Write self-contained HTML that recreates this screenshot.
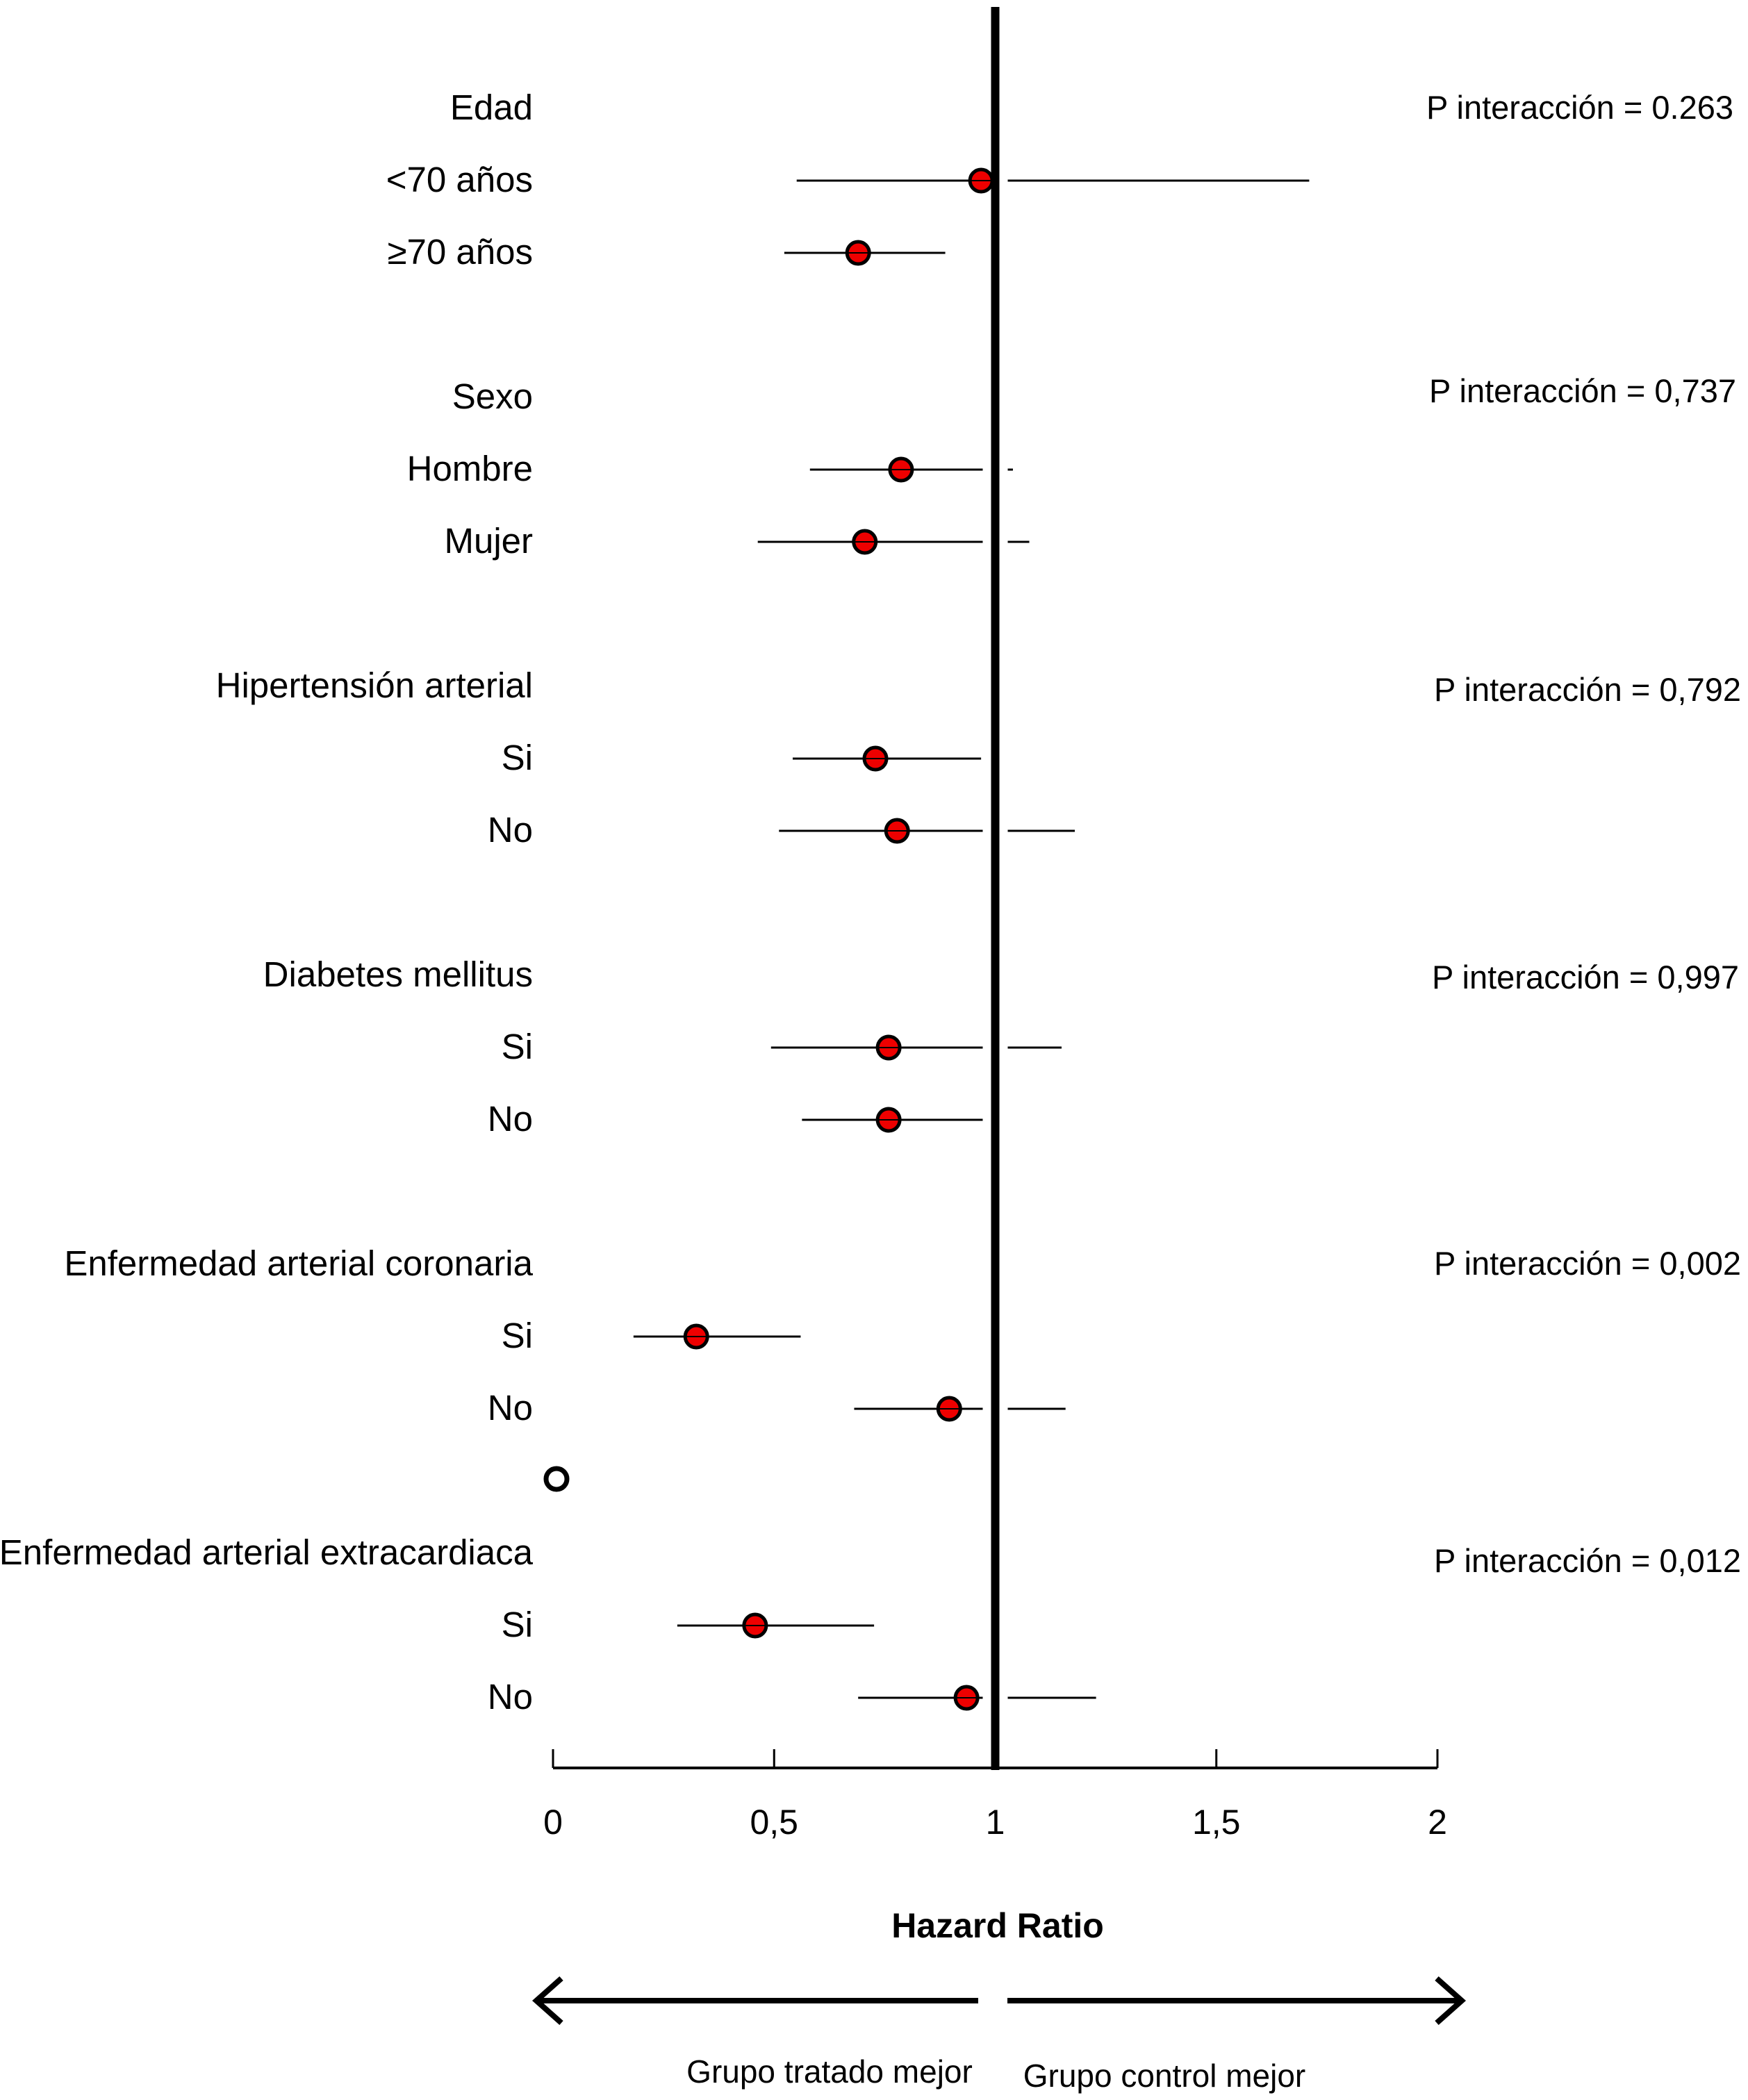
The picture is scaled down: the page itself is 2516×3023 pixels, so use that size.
<!DOCTYPE html>
<html><head><meta charset="utf-8"><style>
html,body{margin:0;padding:0;background:#fff}
svg{display:block}
text{font-family:"Liberation Sans",Arial,sans-serif;fill:#000}
</style></head><body>
<svg id="chart" width="2516" height="3023" viewBox="0 0 2516 3023" xmlns="http://www.w3.org/2000/svg">
<g id="g"></g>
</svg>
<script>
const labels=["Edad","<70 años","≥70 años","Sexo","Hombre","Mujer","Hipertensión arterial","Si","No","Diabetes mellitus","Si","No","Enfermedad arterial coronaria","Si","No","Enfermedad arterial extracardiaca","Si","No"];
const hr=[null,0.968,0.69,null,0.787,0.705,null,0.729,0.778,null,0.759,0.759,null,0.324,0.896,null,0.457,0.935];
const lo=[null,0.551,0.523,null,0.581,0.463,null,0.542,0.511,null,0.493,0.563,null,0.182,0.681,null,0.281,0.69];
const hi=[null,1.71,0.887,null,1.04,1.077,null,0.968,1.18,null,1.15,0.983,null,0.56,1.159,null,0.726,1.228];
const pvals=["P interacción = 0.263","P interacción = 0,737","P interacción = 0,792","P interacción = 0,997","P interacción = 0,002","P interacción = 0,012"];
const pRight=[2495,2499,2506,2503,2506,2506];
const pDy=[0,-8,6,4,0,12];
const ticks=[0,0.5,1,1.5,2];
const tickLabels=["0","0,5","1","1,5","2"];

const NS="http://www.w3.org/2000/svg";
const g=document.getElementById('g');
const X=v=>796+v*636.5;
const Y=i=>154+(Math.floor(i/3)*4+(i%3))*104;
function el(t,a){const e=document.createElementNS(NS,t);for(const k in a)e.setAttribute(k,a[k]);g.appendChild(e);return e;}
function txt(s,a){const e=el('text',a);e.textContent=s;return e;}

for(let i=0;i<labels.length;i++){
  if(hr[i]===null)continue;
  const l=el('line',{x1:X(lo[i]),x2:X(hi[i]),y1:Y(i)+2,y2:Y(i)+2,stroke:'#000','stroke-width':3});
  
  
}
const gap=el('rect',{x:X(1)-18,y:10,width:36,height:2530,fill:'#fff'});


const ref=el('line',{x1:X(1),x2:X(1),y1:10,y2:2548,stroke:'#000','stroke-width':12});


for(let i=0;i<labels.length;i++){
  if(hr[i]===null)continue;
  const c=el('circle',{cx:X(hr[i]),cy:Y(i)+2,r:16,fill:'#ee0000',stroke:'#000','stroke-width':5});
  
  
  el('line',{x1:X(hr[i])-16,x2:X(hr[i])+16,y1:Y(i)+2,y2:Y(i)+2,stroke:'#000','stroke-width':2});
}
const oc=el('circle',{cx:801,cy:2129,r:15,fill:'#fff',stroke:'#000','stroke-width':7});


for(let i=0;i<labels.length;i++){
  const t=txt(labels[i],{x:767,y:Y(i)+18,'font-size':51,'text-anchor':'end'});
  
  
}
for(let k=0;k<pvals.length;k++){
  const t=txt(pvals[k],{x:pRight[k],y:Y(k*3)+17+pDy[k],'font-size':47,'text-anchor':'end'});
  
  
}
const ax=el('line',{x1:X(0),x2:X(2),y1:2545,y2:2545,stroke:'#000','stroke-width':4});


for(let k=0;k<ticks.length;k++){
  if(ticks[k]!==1){const tk=el('line',{x1:X(ticks[k]),x2:X(ticks[k]),y1:2518,y2:2545,stroke:'#000','stroke-width':3});
  
  }
  const t=txt(tickLabels[k],{x:X(ticks[k]),y:2640,'font-size':50,'text-anchor':'middle'});
  
  
}
const title=txt('Hazard Ratio',{x:1436,y:2789,'font-size':50,'font-weight':'bold','text-anchor':'middle'});


const a1=el('path',{d:'M1408 2880 H775 M808 2848 L772 2880 L808 2912',stroke:'#000','stroke-width':8,fill:'none'});


const a2=el('path',{d:'M1450 2880 H2100 M2068 2848 L2104 2880 L2068 2912',stroke:'#000','stroke-width':8,fill:'none'});


const g1=txt('Grupo tratado mejor',{x:1194,y:2998,'font-size':46,'text-anchor':'middle'});


const g2=txt('Grupo control mejor',{x:1676,y:3004,'font-size':46,'text-anchor':'middle'});


</script>
</body></html>
